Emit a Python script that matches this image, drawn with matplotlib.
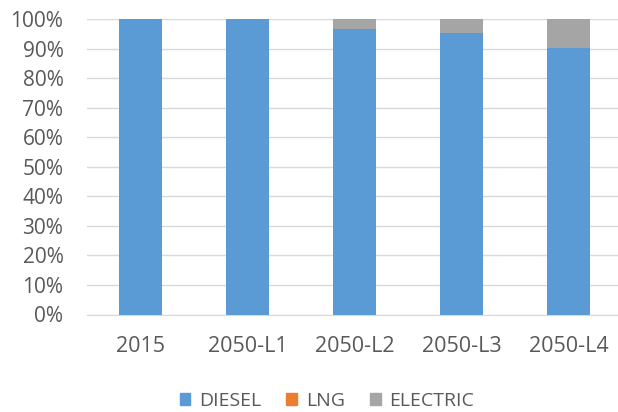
import matplotlib
matplotlib.use("Agg")
import matplotlib.pyplot as plt
from matplotlib.ticker import PercentFormatter
from matplotlib.patches import Patch

categories = ["2015", "2050-L1", "2050-L2", "2050-L3", "2050-L4"]
diesel = [100.0, 100.0, 96.6, 95.2, 90.3]
lng = [0.0, 0.0, 0.0, 0.0, 0.0]
electric = [0.0, 0.0, 3.4, 4.8, 9.7]

colors = {"DIESEL": "#5B9BD5", "LNG": "#ED7D31", "ELECTRIC": "#A5A5A5"}
text_color = "#595959"
plt.rcParams['font.family'] = ['Open Sans', 'DejaVu Sans']

W, H = 618, 412
fig = plt.figure(figsize=(W / 100, H / 100), dpi=100)
left, right, top, bottom = 87, 622, 19, 314.5
ax = fig.add_axes([left / W, 1 - bottom / H, (right - left) / W, (bottom - top) / H])

x = list(range(len(categories)))
bw = 0.40
ax.bar(x, diesel, width=bw, color=colors["DIESEL"], zorder=3)
b1 = [d for d in diesel]
ax.bar(x, lng, width=bw, bottom=b1, color=colors["LNG"], zorder=3)
b2 = [d + l for d, l in zip(diesel, lng)]
ax.bar(x, electric, width=bw, bottom=b2, color=colors["ELECTRIC"], zorder=3)

ax.set_xlim(-0.5, len(categories) - 0.5)
ax.set_ylim(0, 100)
ax.set_yticks(range(0, 101, 10))
ax.yaxis.set_major_formatter(PercentFormatter(decimals=0))
ax.grid(axis="y", color="#D9D9D9", linewidth=1, zorder=0)
for s in ["top", "right", "left"]:
    ax.spines[s].set_visible(False)
ax.spines["bottom"].set_color("#D9D9D9")
ax.set_xticks(x)
ax.set_xticklabels(categories)
ax.tick_params(axis="both", length=0, colors=text_color)
ax.tick_params(axis="x", pad=15.5, labelsize=15.5)
ax.tick_params(axis="y", pad=17, labelsize=15)

handles = [Patch(color=colors[k], label=k) for k in ["DIESEL", "LNG", "ELECTRIC"]]
fig.legend(handles=handles, loc="center", bbox_to_anchor=(327 / W, 1 - 401 / H), ncol=3,
           frameon=False, fontsize=14, labelcolor=text_color, handlelength=0.55,
           handleheight=0.55, handletextpad=0.45, columnspacing=1.3,
           borderpad=0, borderaxespad=0)

fig.savefig("out.png", dpi=100)
